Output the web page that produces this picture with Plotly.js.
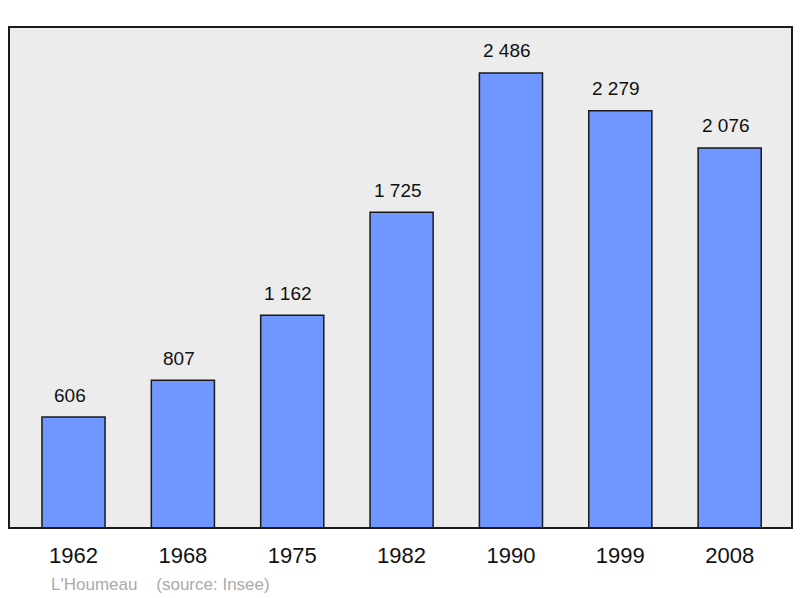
<!DOCTYPE html>
<html>
<head>
<meta charset="utf-8">
<script src="https://cdn.plot.ly/plotly-3.0.1.min.js"></script>
<style>html,body{margin:0;padding:0;background:#fff;}#chart{width:800px;height:598px;}</style>
</head>
<body>
<div id="chart"></div>
<script>
const years = ["1962", "1968", "1975", "1982", "1990", "1999", "2008"];
const population = [606, 807, 1162, 1725, 2486, 2279, 2076];
const townName = "L'Houmeau";
const sourceText = "(source: Insee)";

function fmt(v) {
  return String(v).replace(/\B(?=(\d{3})+(?!\d))/g, " ");
}

const trace = {
  type: "bar",
  x: years,
  y: population,
  width: 0.577,
  marker: { color: "#7096ff", line: { color: "#1a1a1a", width: 1.5 } },
  hoverinfo: "none"
};

const annotations = years.map((yr, i) => ({
  x: i, y: population[i], xref: "x", yref: "y",
  text: fmt(population[i]), showarrow: false,
  xanchor: "center", yanchor: "middle", yshift: 22, xshift: -4,
  font: { family: "Liberation Sans, Arial, sans-serif", size: 19, color: "#111111" }
}));
annotations.push({
  xref: "paper", yref: "paper", x: 40 / 783, y: -56 / 501,
  xanchor: "left", yanchor: "middle",
  text: townName + "&nbsp;&nbsp;&nbsp;&nbsp;" + sourceText, showarrow: false,
  font: { family: "Liberation Sans, Arial, sans-serif", size: 17, color: "#aaaaaa" }
});

const layout = {
  width: 800, height: 598,
  margin: { l: 9, r: 8, t: 27, b: 70 },
  paper_bgcolor: "#ffffff",
  plot_bgcolor: "#ececec",
  showlegend: false,
  xaxis: {
    type: "category", range: [-0.59, 6.57],
    showgrid: false, zeroline: false, showline: false, ticks: "",
    ticklabelstandoff: 12,
    tickfont: { family: "Liberation Sans, Arial, sans-serif", size: 22, color: "#111111" },
    fixedrange: true
  },
  yaxis: {
    range: [0, 2737], showgrid: false, zeroline: false, showline: false,
    showticklabels: false, ticks: "", fixedrange: true
  },
  shapes: [{
    type: "rect", xref: "paper", yref: "paper", x0: 0, x1: 1, y0: 0, y1: 1,
    line: { color: "#1a1a1a", width: 2 }, fillcolor: "rgba(0,0,0,0)", layer: "above"
  }],
  annotations: annotations
};

Plotly.newPlot("chart", [trace], layout, { staticPlot: true, displayModeBar: false });
</script>
</body>
</html>
